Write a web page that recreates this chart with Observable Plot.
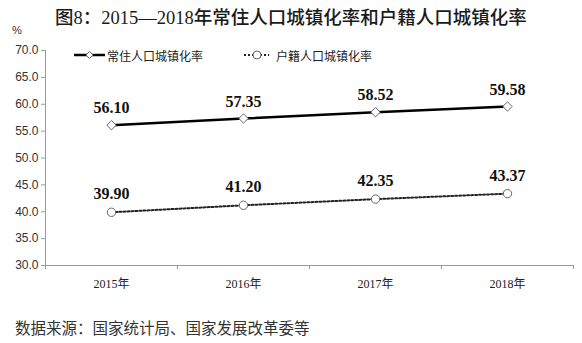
<!DOCTYPE html>
<html>
<head>
<meta charset="utf-8">
<script src="https://cdn.jsdelivr.net/npm/d3@7"></script>
<script src="https://cdn.jsdelivr.net/npm/@observablehq/plot@0.6"></script>
<style>
  body { margin:0; background:#fff; }
  #wrap { position:relative; width:582px; height:343px; overflow:hidden; background:#fff; }
  #title { position:absolute; top:6px; left:0; width:582px; text-align:center; font-family:"Liberation Serif","Noto Sans CJK SC",serif; font-weight:500; font-size:18.5px; line-height:24px; color:#1a1a1a; white-space:nowrap; }
  #pct { position:absolute; left:12px; top:23px; font-family:"Liberation Sans",Arial,sans-serif; font-size:11px; line-height:14px; color:#333; }
  #chart { position:absolute; left:0; top:24px; }
  .leg { position:absolute; top:47px; height:16px; display:flex; align-items:center; font-family:"Noto Sans CJK SC",sans-serif; font-size:12px; color:#222; white-space:nowrap; }
  #source { position:absolute; left:15px; top:317px; font-family:"Noto Sans CJK SC",sans-serif; font-size:15.5px; line-height:20px; color:#333; white-space:nowrap; }
</style>
</head>
<body>
<div id="wrap">
  <div id="title">图8：2015—2018年常住人口城镇化率和户籍人口城镇化率</div>
  <div id="pct">%</div>
  <div id="chart"></div>
  <div class="leg" style="left:74px">
    <svg width="31" height="12"><line x1="0" y1="6" x2="31" y2="6" stroke="#000" stroke-width="2.5"/><path d="M15.5,2.5 L19,6 L15.5,9.5 L12,6 Z" fill="#fff" stroke="#666" stroke-width="1"/></svg>
    <span style="margin-left:2px">常住人口城镇化率</span>
  </div>
  <div class="leg" style="left:244px">
    <svg width="25" height="12"><line x1="0" y1="6" x2="25" y2="6" stroke="#222" stroke-width="2" stroke-dasharray="2 2"/><circle cx="13" cy="6" r="4" fill="#fff" stroke="#666" stroke-width="1"/></svg>
    <span style="margin-left:7px">户籍人口城镇化率</span>
  </div>
  <div id="source">数据来源：国家统计局、国家发展改革委等</div>
</div>
<script>
const years = ["2015年", "2016年", "2017年", "2018年"];
const resident = [56.10, 57.35, 58.52, 59.58];
const household = [39.90, 41.20, 42.35, 43.37];
const yTicks = [30, 35, 40, 45, 50, 55, 60, 65, 70];

const resRows = years.map((yr, i) => ({i: i + 0.5, year: yr, v: resident[i]}));
const houRows = years.map((yr, i) => ({i: i + 0.5, year: yr, v: household[i]}));
const yearRows = years.map((yr, i) => ({i: i + 0.5, year: yr}));

const labelFont = {fontFamily: "Liberation Serif, serif", fontWeight: "bold", fontSize: 16, fill: "#111"};

const chart = Plot.plot({
  width: 582,
  height: 280,
  marginLeft: 45,
  marginRight: 9,
  marginTop: 26,
  marginBottom: 39,
  style: {fontFamily: "Liberation Sans, Arial, sans-serif", background: "transparent"},
  x: {type: "linear", domain: [0, years.length]},
  y: {domain: [30, 70]},
  marks: [
    Plot.axisY({ticks: yTicks, tickFormat: d => d.toFixed(1), tickSize: 4, tickPadding: 3, fontSize: 12, stroke: "#999", fill: "#333", label: null}),
    Plot.axisX({ticks: d3.range(0, years.length + 1), tickFormat: () => "", tickSize: 4, stroke: "#999", label: null}),
    Plot.ruleX([0], {y1: 30, y2: 70, stroke: "#999"}),
    Plot.ruleY([30], {stroke: "#999"}),
    Plot.text(yearRows, {x: "i", y: 30, text: "year", dy: 19, fontFamily: "Liberation Serif, Noto Sans CJK SC, serif", fontSize: 12, fill: "#222"}),
    Plot.line(resRows, {x: "i", y: "v", stroke: "#000", strokeWidth: 2.5}),
    Plot.line(houRows, {x: "i", y: "v", stroke: "#222", strokeWidth: 2, strokeDasharray: "2 2"}),
    Plot.dot(resRows, {x: "i", y: "v", symbol: "diamond2", r: 4.2, fill: "#fff", stroke: "#666", strokeWidth: 1}),
    Plot.dot(houRows, {x: "i", y: "v", symbol: "circle", r: 4.2, fill: "#fff", stroke: "#666", strokeWidth: 1}),
    Plot.text(resRows, {x: "i", y: "v", text: d => d.v.toFixed(2), dy: -17, ...labelFont}),
    Plot.text(houRows, {x: "i", y: "v", text: d => d.v.toFixed(2), dy: -18, ...labelFont})
  ]
});
document.getElementById("chart").appendChild(chart);
</script>
</body>
</html>
